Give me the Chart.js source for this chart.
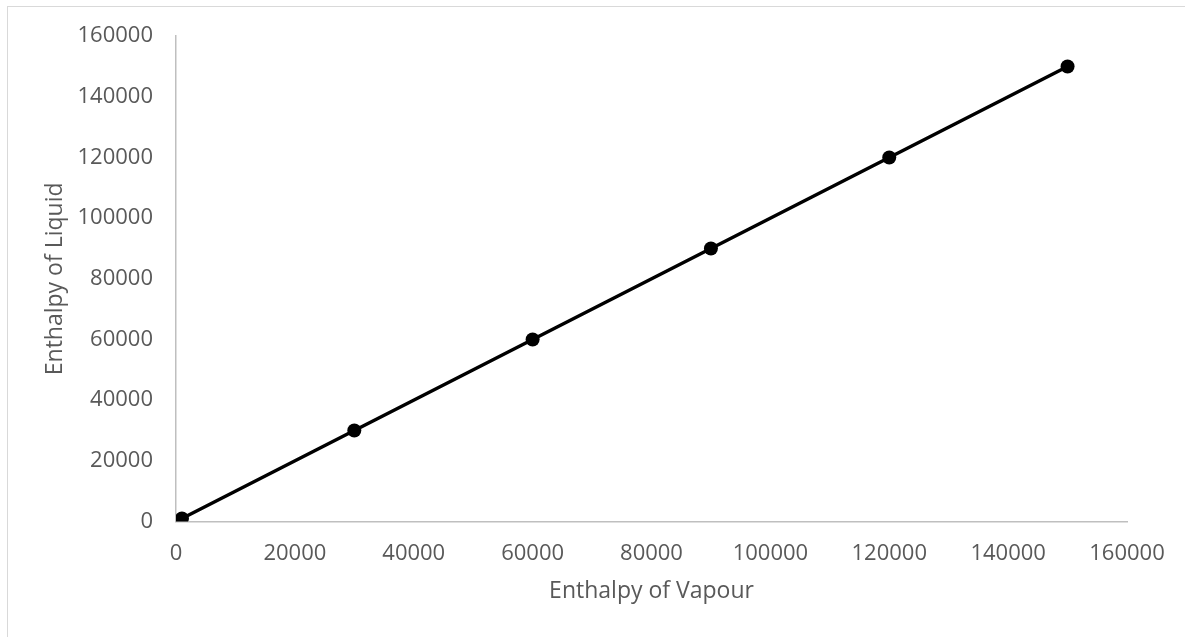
<!DOCTYPE html>
<html>
<head>
<meta charset="utf-8">
<script src="https://cdn.jsdelivr.net/npm/chart.js@4"></script>
<style>
    html, body { margin: 0; padding: 0; background: #fff; }
    #wrap { position: relative; width: 1185px; height: 637px; overflow: hidden; }
    #frame { position: absolute; left: 7px; top: 6px; width: 1200px; height: 700px;
             border-left: 1px solid #d9d9d9; border-top: 1px solid #d9d9d9; }
    canvas { position: absolute; left: 0; top: 0; }
</style>
</head>
<body>
<div id="wrap">
    <div id="frame"></div>
    <canvas id="chart" width="1185" height="637"></canvas>
</div>
<script>
// datos
const vapour = [1000, 30000, 60000, 90000, 120000, 150000];
const liquid = [1000, 30000, 60000, 90000, 120000, 150000];
const axisMin = 0;
const axisMax = 160000;
const axisStep = 20000;

const points = vapour.map((v, i) => ({ x: v, y: liquid[i] }));

const textColor = '#595959';
const axisColor = '#bfbfbf';
const fontFamily = '"Open Sans", sans-serif';

const ctx = document.getElementById('chart').getContext('2d');
new Chart(ctx, {
    type: 'scatter',
    data: {
        datasets: [{
            data: points,
            showLine: true,
            borderColor: '#000',
            backgroundColor: '#000',
            borderWidth: 3.5,
            pointRadius: 7,
            pointHoverRadius: 7,
            pointBorderWidth: 0
        }]
    },
    options: {
        responsive: false,
        animation: false,
        layout: { padding: { left: 0, top: 36, right: 58, bottom: 0 } },
        plugins: { legend: { display: false }, tooltip: { enabled: false } },
        scales: {
            x: {
                type: 'linear',
                min: axisMin,
                max: axisMax,
                afterFit: s => { s.height = 115.5; },
                grid: { display: false, drawTicks: false },
                border: { display: true, color: axisColor, width: 1.5 },
                ticks: { stepSize: axisStep, color: textColor, padding: 19, maxRotation: 0,
                         callback: v => String(v),
                         font: { family: fontFamily, size: 22 } },
                title: { display: true, text: 'Enthalpy of Vapour', color: textColor,
                         padding: { bottom: 32 }, font: { family: fontFamily, size: 23 } }
            },
            y: {
                type: 'linear',
                min: axisMin,
                max: axisMax,
                afterFit: s => { s.width = 176; },
                grid: { display: false, drawTicks: false },
                border: { display: true, color: axisColor, width: 1.5 },
                ticks: { stepSize: axisStep, color: textColor, padding: 23,
                         callback: v => String(v),
                         font: { family: fontFamily, size: 22 } },
                title: { display: true, text: 'Enthalpy of Liquid', color: textColor,
                         padding: { top: 42 }, font: { family: fontFamily, size: 23 } }
            }
        }
    }
});
</script>
</body>
</html>
